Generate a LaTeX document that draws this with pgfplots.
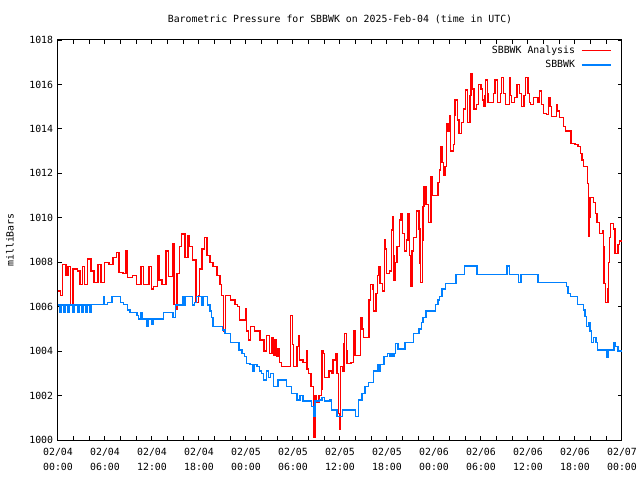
\documentclass[border=0pt]{standalone}
\usepackage{pgfplots}
\pgfplotsset{compat=1.18}
\usepackage{fontspec}
\setmainfont{DejaVu Sans Mono}
\definecolor{gblue}{RGB}{0,128,255}
\definecolor{gred}{RGB}{255,0,0}
\begin{document}
\begin{tikzpicture}[font=\fontsize{7.1pt}{10.8pt}\selectfont]
\begin{axis}[
  at={(0,0)}, anchor=south west,
  scale only axis, width=406.08pt, height=288pt,
  xmin=0, xmax=72, ymin=1000, ymax=1018,
  xtick={0,6,...,72}, minor xtick={0,2,...,72},
  ytick={1000,1002,...,1018},
  xticklabels={{02/04\\00:00},{02/04\\06:00},{02/04\\12:00},{02/04\\18:00},{02/05\\00:00},{02/05\\06:00},{02/05\\12:00},{02/05\\18:00},{02/06\\00:00},{02/06\\06:00},{02/06\\12:00},{02/06\\18:00},{02/07\\00:00}},
  xticklabel style={align=center, yshift=-2pt},
  yticklabel style={/pgf/number format/1000 sep={}},
  /pgf/number format/assume math mode=true,
  tick align=inside, xtick pos=both, ytick pos=both,
  xticklabel pos=lower, yticklabel pos=left,
  major tick length=3.2pt, minor tick length=3.2pt,
  tick style={black, line width=0.72pt},
  axis line style={line width=0.72pt},
  title={Barometric Pressure for SBBWK on 2025-Feb-04 (time in UTC)},
  title style={at={(axis description cs:0.5,1.0224)}, anchor=base, inner sep=0pt},
  ylabel={milliBars},
  ylabel style={at={(axis description cs:-0.0851,0.5)}, anchor=center, inner sep=0pt},
  legend plot pos=right,
  legend cell align=right,
  legend image code/.code={\path (0pt,0pt); \draw[#1] (2.2pt,0pt) -- (23.2pt,0pt);},
  legend style={draw=none, fill=none, at={(axis description cs:1,1)}, anchor=north east, xshift=-4.4pt, yshift=0pt, row sep=-0.5pt},
]
\addplot[const plot, draw=gred, line width=1.0pt] coordinates {
(0,1006.7) (0.3,1006.5) (0.6,1007.9) (1.0,1007.4) (1.3,1007.8) (1.6,1006.1) (1.9,1007.7) (2.5,1007.6) (2.8,1007.0) (3.1,1007.8)
(3.4,1007.0) (3.8,1008.15) (4.2,1007.6) (4.6,1007.1) (5.1,1007.9) (5.5,1007.1) (5.9,1008.0) (6.5,1007.9) (7.0,1008.2) (7.5,1008.45)
(7.8,1007.55) (8.3,1007.5) (8.7,1008.5) (8.9,1007.3) (9.5,1007.4) (10.0,1007.0) (10.6,1007.8) (10.9,1007.0) (11.5,1007.0) (11.6,1007.8)
(11.9,1006.8) (12.2,1006.9) (12.7,1008.3) (12.9,1007.2) (13.3,1007.0) (13.8,1008.5) (14.1,1007.35) (14.6,1008.85) (14.8,1006.1) (15.0,1005.9)
(15.2,1007.5) (15.5,1008.7) (15.8,1009.27) (16.2,1008.2) (16.6,1009.2) (16.8,1008.7) (17.2,1008.1) (17.6,1006.2) (17.9,1006.5) (18.1,1007.7)
(18.4,1008.6) (18.7,1009.1) (19.0,1008.3) (19.4,1008.0) (19.8,1007.8) (20.3,1007.4) (20.7,1007.0) (20.9,1006.5) (21.1,1004.9) (21.4,1006.5)
(22.0,1006.3) (22.6,1006.1) (22.9,1006.0) (23.2,1005.4) (23.7,1005.4) (23.9,1005.9) (24.1,1004.9) (24.3,1004.5) (24.6,1005.1) (25.1,1004.9)
(25.8,1004.5) (26.3,1004.0) (26.6,1004.7) (27.0,1003.9) (27.3,1004.6) (27.5,1003.8) (27.7,1004.5) (27.9,1003.75) (28.1,1004.1) (28.3,1003.5)
(28.5,1003.3) (29.5,1003.3) (29.7,1005.6) (29.9,1004.3) (30.1,1003.3) (30.5,1004.2) (30.7,1004.7) (30.8,1003.6) (31.3,1003.5) (31.7,1004.0)
(31.8,1003.2) (32.0,1003.0) (32.3,1002.4) (32.6,1001.2) (32.7,1000.1) (32.8,1002.0) (33.0,1001.7) (33.3,1002.0) (33.6,1002.3) (33.7,1004.0)
(33.9,1003.9) (34.0,1002.8) (34.6,1003.1) (34.9,1003.0) (35.1,1003.6) (35.4,1003.9) (35.6,1003.0) (35.8,1001.2) (35.9,1000.5) (36.1,1003.3)
(36.3,1003.1) (36.5,1004.35) (36.6,1004.8) (36.8,1004.0) (36.9,1003.45) (37.4,1003.5) (37.7,1004.9) (37.9,1003.8) (38.3,1003.8) (38.6,1005.5)
(38.8,1005.0) (39.0,1004.6) (39.5,1004.6) (39.7,1006.3) (39.9,1007.0) (40.2,1006.8) (40.3,1005.8) (40.6,1006.6) (40.8,1007.4) (40.9,1007.8)
(41.1,1007.05) (41.4,1006.7) (41.7,1009.0) (41.8,1008.6) (41.9,1007.5) (42.3,1007.6) (42.6,1009.45) (42.7,1010.05) (42.8,1008.3) (42.9,1007.2)
(43.1,1008.0) (43.3,1008.7) (43.6,1009.9) (43.8,1010.2) (44.0,1009.3) (44.2,1008.5) (44.5,1009.0) (44.7,1010.2) (44.9,1008.3) (45.0,1006.9)
(45.2,1008.5) (45.4,1009.1) (45.8,1010.3) (46.1,1009.5) (46.2,1007.95) (46.3,1007.1) (46.5,1009.0) (46.6,1010.5) (46.7,1011.4) (47.0,1010.6)
(47.3,1009.8) (47.6,1011.85) (47.8,1011.0) (48.3,1011.0) (48.5,1011.6) (48.7,1012.15) (48.8,1013.2) (49.0,1012.5) (49.2,1011.9) (49.4,1012.3)
(49.6,1014.25) (49.8,1013.9) (50.0,1014.6) (50.1,1013.0) (50.5,1013.3) (50.6,1014.6) (50.7,1015.3) (51.0,1014.4) (51.2,1013.8) (51.5,1014.3)
(51.8,1014.9) (52.0,1015.75) (52.3,1014.3) (52.5,1014.3) (52.6,1015.5) (52.7,1016.5) (52.9,1015.8) (53.1,1014.9) (53.4,1015.1) (53.7,1016.0)
(54.0,1015.8) (54.2,1015.3) (54.3,1015.0) (54.5,1015.5) (54.6,1016.2) (54.8,1015.6) (54.9,1015.2) (55.4,1015.2) (55.6,1015.6) (55.8,1016.2)
(56.1,1015.2) (56.3,1015.2) (56.5,1015.6) (56.6,1016.3) (56.9,1015.6) (57.1,1015.1) (57.6,1016.3) (57.8,1015.5) (57.9,1015.2) (58.3,1015.4)
(58.6,1016.0) (58.9,1015.6) (59.2,1015.0) (59.5,1015.5) (59.7,1016.3) (60.0,1015.6) (60.2,1015.2) (60.3,1015.1) (60.7,1015.4) (61.3,1015.2)
(61.5,1015.7) (61.7,1015.1) (62.0,1014.7) (62.4,1014.65) (62.6,1015.4) (62.8,1015.0) (63.0,1014.55) (63.4,1014.55) (63.6,1015.1) (63.8,1014.8)
(64.0,1014.5) (64.5,1014.1) (64.8,1013.9) (65.3,1013.9) (65.5,1013.35) (66.0,1013.3) (66.4,1013.2) (66.7,1012.9) (66.9,1012.6) (67.1,1012.3)
(67.6,1011.55) (67.7,1009.15) (67.8,1010.0) (67.9,1010.9) (68.4,1010.7) (68.6,1010.2) (68.8,1009.8) (69.1,1009.3) (69.5,1009.4) (69.6,1008.7)
(69.7,1007.05) (69.9,1006.2) (70.2,1006.8) (70.3,1008.0) (70.4,1009.1) (70.5,1009.75) (70.9,1009.5) (71.1,1008.4) (71.4,1008.4) (71.5,1008.8)
(71.7,1008.95) (72.0,1008.95)
};
\addlegendentry{SBBWK Analysis}
\addplot[const plot, draw=gblue, line width=1.0pt] coordinates {
(0,1006.07) (0.2,1005.75) (0.4,1006.07) (0.7,1005.75) (0.9,1006.07) (1.3,1005.75) (1.5,1006.07) (1.9,1005.75) (2.1,1006.07) (2.5,1005.75)
(2.7,1006.07) (3.0,1005.75) (3.2,1006.07) (3.5,1005.75) (3.7,1006.07) (4.0,1005.75) (4.2,1006.1) (5.8,1006.45) (5.95,1006.1) (6.3,1006.2)
(6.9,1006.45) (8.0,1006.2) (8.4,1006.1) (8.9,1005.85) (9.2,1005.75) (10.1,1005.6) (10.3,1005.45) (10.5,1005.75) (10.7,1005.45) (11.0,1005.45)
(11.3,1005.1) (11.5,1005.45) (11.7,1005.45) (12.0,1005.2) (12.2,1005.45) (13.5,1005.75) (14.7,1005.5) (15.0,1006.07) (15.9,1006.45) (16.1,1006.07)
(16.3,1006.45) (17.2,1006.07) (17.4,1006.2) (17.7,1006.45) (18.3,1006.07) (18.5,1006.45) (19.1,1006.07) (19.4,1005.8) (19.6,1005.5) (19.8,1005.1)
(21.0,1004.95) (21.3,1004.8) (22.0,1004.4) (23.1,1004.05) (23.5,1003.9) (23.8,1003.75) (24.1,1003.45) (24.5,1003.4) (24.9,1003.1) (25.1,1003.4)
(25.4,1003.3) (25.7,1003.1) (26.0,1003.0) (26.2,1002.7) (26.6,1003.1) (26.9,1002.8) (27.1,1003.0) (27.5,1002.4) (28.1,1002.7) (28.9,1002.7)
(29.2,1002.4) (29.8,1002.1) (30.5,1001.8) (30.9,1002.0) (31.3,1001.75) (32.4,1001.5) (32.6,1001.05) (32.8,1001.75) (33.4,1001.8) (33.7,1001.9)
(34.0,1001.75) (34.5,1001.75) (34.7,1001.8) (34.9,1001.35) (35.6,1001.05) (36.3,1001.35) (38.0,1001.05) (38.4,1001.8) (38.8,1002.1) (39.2,1002.4)
(39.6,1002.6) (40.3,1003.1) (40.8,1003.4) (41.0,1003.1) (41.2,1003.4) (41.6,1003.75) (42.1,1003.9) (42.3,1003.75) (42.5,1003.9) (42.7,1003.75)
(42.9,1003.9) (43.1,1004.35) (43.4,1004.1) (43.8,1004.1) (44.3,1004.4) (45.4,1004.8) (46.1,1005.0) (46.4,1005.3) (46.6,1005.5) (47.0,1005.8)
(48.2,1006.1) (48.5,1006.3) (48.7,1006.45) (49.0,1006.8) (49.5,1007.05) (50.8,1007.45) (51.9,1007.83) (53.5,1007.45) (57.3,1007.83) (57.6,1007.45)
(58.8,1007.1) (59.1,1007.45) (61.3,1007.1) (64.9,1006.9) (65.1,1006.6) (65.4,1006.45) (66.3,1006.1) (67.1,1005.85) (67.3,1005.55) (67.5,1005.1)
(67.7,1005.3) (67.9,1004.9) (68.1,1004.4) (68.4,1004.6) (68.7,1004.4) (68.9,1004.05) (70.1,1003.7) (70.3,1004.05) (71.0,1004.4) (71.2,1004.2)
(71.5,1004.0) (72.0,1004.0)
};
\addlegendentry{SBBWK}
\end{axis}
\pgfresetboundingbox
\path (-41.76pt,-28.8pt) rectangle (419.04pt,316.8pt);
\end{tikzpicture}
\end{document}
